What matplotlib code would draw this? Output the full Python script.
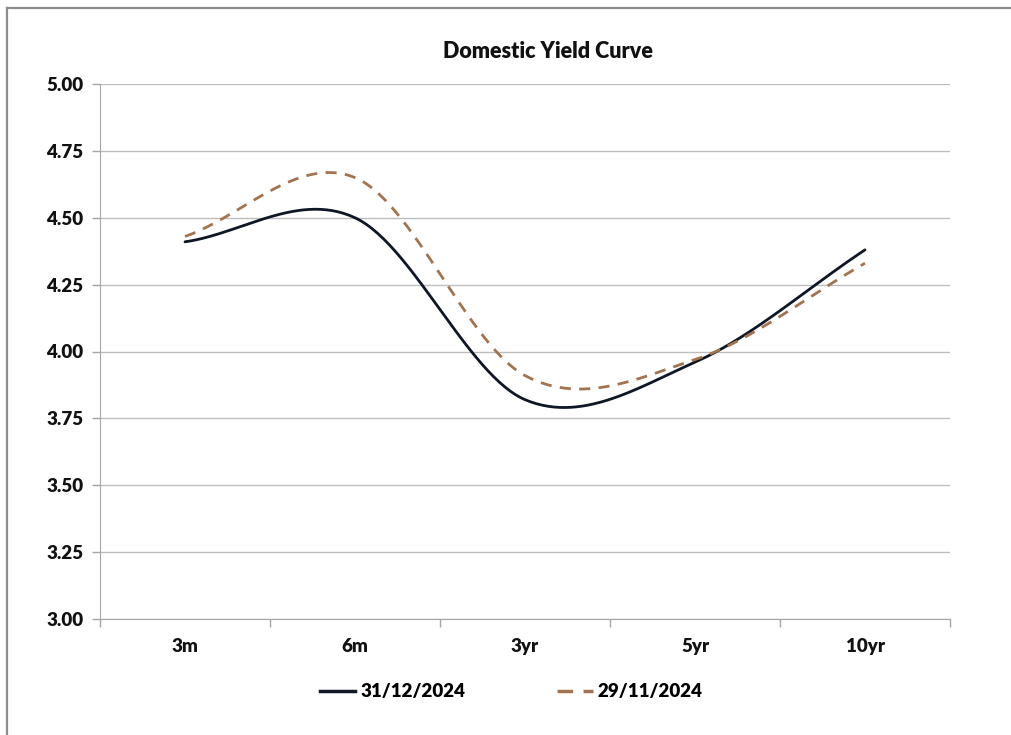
import numpy as np
import matplotlib
matplotlib.use("Agg")
import matplotlib.pyplot as plt
from matplotlib.lines import Line2D

# data
tenors = ["3m", "6m", "3yr", "5yr", "10yr"]
yield_dec = [4.41, 4.50, 3.82, 3.96, 4.38]
yield_nov = [4.43, 4.65, 3.91, 3.97, 4.33]
labels = ["31/12/2024", "29/11/2024"]


def smooth(y, n=60):
    """Excel-like smoothed line (Catmull-Rom through the points)"""
    y = np.asarray(y, dtype=float)
    x = np.arange(len(y), dtype=float)
    ext = np.concatenate([[y[0]], y, [y[-1]]])
    xs, ys = [], []
    for i in range(len(y) - 1):
        p0, p1, p2, p3 = ext[i], ext[i + 1], ext[i + 2], ext[i + 3]
        m1 = (p2 - p0) / 2.0 if i > 0 else (p2 - p1)
        m2 = (p3 - p1) / 2.0 if i < len(y) - 2 else (p2 - p1)
        t = np.linspace(0, 1, n)
        h00 = 2 * t**3 - 3 * t**2 + 1
        h10 = t**3 - 2 * t**2 + t
        h01 = -2 * t**3 + 3 * t**2
        h11 = t**3 - t**2
        xs.append(x[i] + t)
        ys.append(h00 * p1 + h10 * m1 + h01 * p2 + h11 * m2)
    return np.concatenate(xs), np.concatenate(ys)


plt.rcParams['font.family'] = ['Lato', 'DejaVu Sans']
plt.rcParams['font.weight'] = 'bold'

fs = 13.5
fig = plt.figure(figsize=(10.11, 7.35), dpi=100)
ax = fig.add_axes([100 / 1011, 1 - 619 / 735, 850 / 1011, 535 / 735])

x1, y1 = smooth(yield_dec)
x2, y2 = smooth(yield_nov)
ax.plot(x1, y1, color="#0f1626", lw=2.0, solid_capstyle="round", zorder=3)
ax.plot(x2, y2, color="#a27350", lw=2.0, dashes=(4, 3), zorder=3)

ax.set_xlim(-0.5, len(tenors) - 0.5)
ax.set_ylim(3.0, 5.0)
ax.set_yticks(np.arange(3.0, 5.01, 0.25))
ax.set_yticklabels(["%.2f" % v for v in np.arange(3.0, 5.01, 0.25)],
                   fontsize=fs, fontweight="heavy", color="#111111")
ax.yaxis.grid(True, color="#bdbdbd", lw=1.0)
ax.set_axisbelow(True)

# categories sit between tick marks, like Excel
ax.set_xticks(np.arange(-0.5, len(tenors), 1.0))
ax.set_xticklabels([])
ax.set_xticks(np.arange(len(tenors)), minor=True)
ax.set_xticklabels(tenors, minor=True, fontsize=fs, fontweight="heavy", color="#111111")
ax.tick_params(axis="x", which="major", length=6, color="#a6a6a6", width=1)
ax.tick_params(axis="x", which="minor", length=0, pad=14)
ax.tick_params(axis="y", length=6, color="#a6a6a6", width=1, pad=6)

for s in ["top", "right"]:
    ax.spines[s].set_visible(False)
ax.spines["left"].set_color("#a6a6a6")
ax.spines["bottom"].set_color("#a6a6a6")

fig.text(548 / 1011, 1 - 52 / 735, "Domestic Yield Curve", ha="center", va="center",
         fontsize=15.5, fontweight="heavy", color="#111111")

handles = [Line2D([], [], color="#0f1626", lw=2.5),
           Line2D([], [], color="#a27350", lw=2.5, dashes=(4.5, 3))]
fig.legend(handles, labels, loc="center", bbox_to_anchor=(511 / 1011, 1 - 692 / 735),
           ncol=2, frameon=False, handlelength=1.9, handletextpad=0.25,
           columnspacing=4.9, prop={"weight": "heavy", "size": fs})

# chart area border
fig.add_artist(Line2D([7 / 1011, 7 / 1011], [0, 1 - 8 / 735], transform=fig.transFigure,
                      color="#8c8c8c", lw=1.6))
fig.add_artist(Line2D([7 / 1011, 1], [1 - 8 / 735, 1 - 8 / 735], transform=fig.transFigure,
                      color="#8c8c8c", lw=1.6))

fig.savefig("out.png", dpi=100)
